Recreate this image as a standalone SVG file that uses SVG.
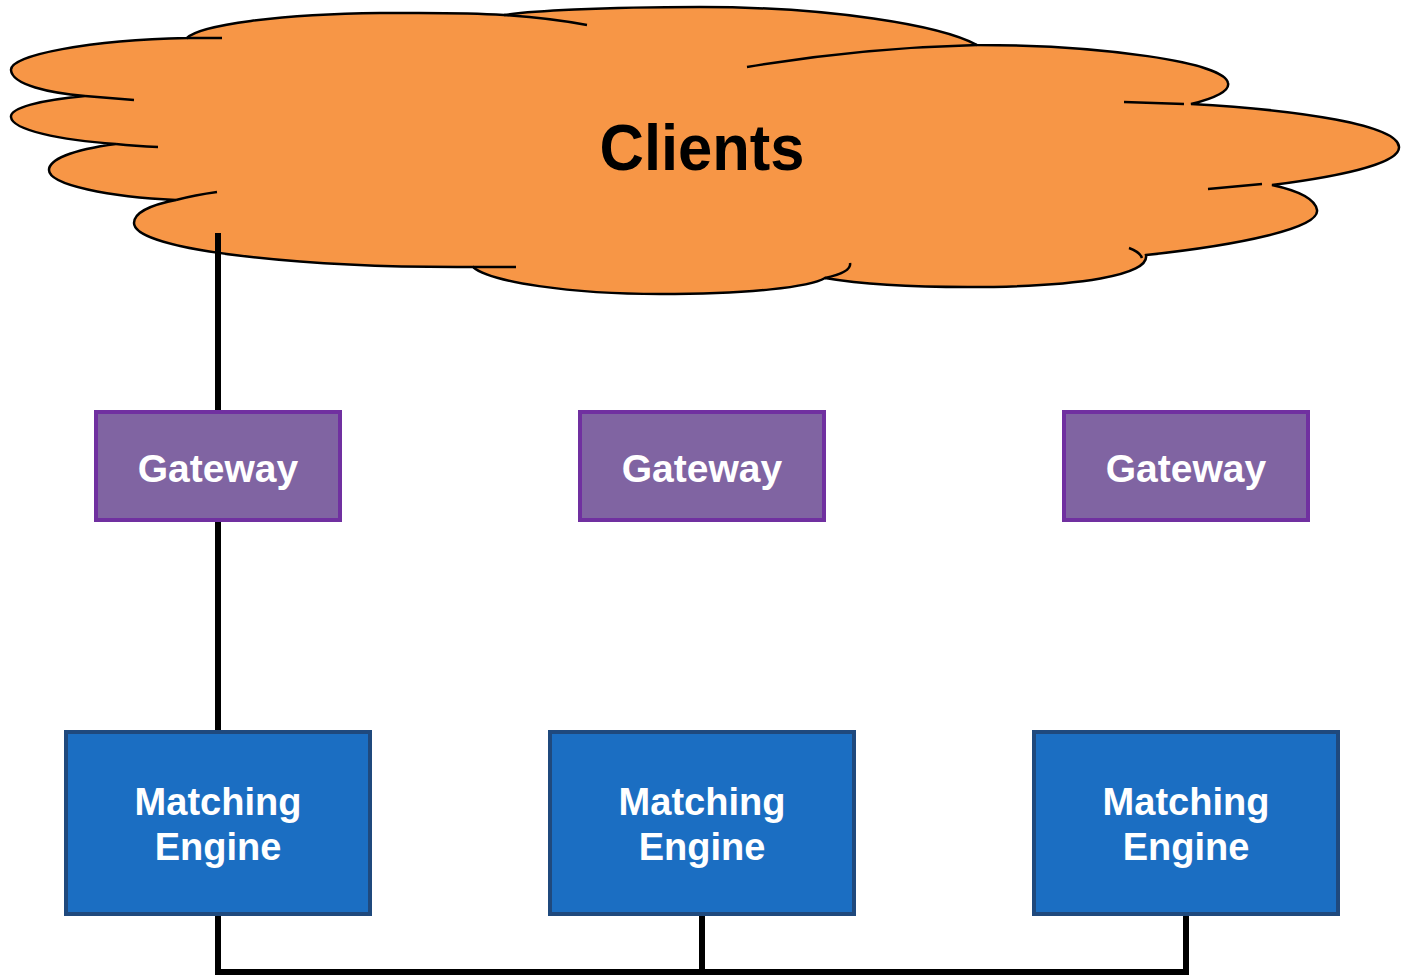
<svg xmlns="http://www.w3.org/2000/svg" width="1403" height="977" viewBox="0 0 1403 977">
<style>
.cloud{fill:#F79646;stroke:#000;stroke-width:2.5}
.cin{fill:none;stroke:#000;stroke-width:2.5}
.gw rect{fill:#8064A2;stroke:#7030A0;stroke-width:4}
.me rect{fill:#1B6EC2;stroke:#1F497D;stroke-width:4}
.lbl{font-family:"Liberation Sans",Arial,sans-serif;font-weight:bold;fill:#fff;text-anchor:middle}
.conn{fill:none;stroke:#000;stroke-width:6}
</style>
<rect width="1403" height="977" fill="#fff"/>
<g id="clients">
<path class="cloud" d="M187,38 C90,40 10,55 11,70 C12,85 50,93 85,96 C40,100 10,108 11,117 C12,130 60,140 116,144 C70,150 49,160 49,170 C49,185 110,197 176,200 C150,205 134,213 134,223 C134,250 300,268 473,267 C490,282 570,294 660,294 C750,294 810,287 825,278 C860,284 910,287 968,287 C1080,287 1150,275 1146,255 C1240,245 1320,228 1317,210 C1315,198 1295,190 1272,185 C1350,175 1400,162 1399,147 C1398,125 1300,110 1191,104 C1215,98 1230,91 1228,83 C1225,62 1100,45 977,45 C940,25 830,7 700,7 C600,7 530,11 504,15 C460,12 420,13 380,13 C280,14 200,25 187,38 Z"/>
<path class="cin" d="M187,38 L222,38 M85,96 Q110,98 134,100 M116,144 Q135,146 158,147 M176,200 Q195,195 217,192 M473,267 L516,267 M850,263 Q852,272 825,278 M1129,248 Q1140,252 1142,258 M1208,189 L1262,184 M1124,102 L1184,104 M747,67 Q860,48 977,45 M504,15 Q550,18 587,25"/>
<text x="702" y="170" font-family="Liberation Sans, Arial, sans-serif" font-weight="bold" font-size="64" text-anchor="middle" fill="#000" textLength="205" lengthAdjust="spacingAndGlyphs">Clients</text>
</g>
<g id="connectors">
<path class="conn" d="M218,233 V412 M218,520 V732"/>
<path class="conn" d="M218,914 V972 H1186 V914 M702,914 V972"/>
</g>
<g id="gateway1" class="gw"><rect x="96" y="412" width="244" height="108"/><text class="lbl" x="218" y="482" font-size="39">Gateway</text></g>
<g id="gateway2" class="gw"><rect x="580" y="412" width="244" height="108"/><text class="lbl" x="702" y="482" font-size="39">Gateway</text></g>
<g id="gateway3" class="gw"><rect x="1064" y="412" width="244" height="108"/><text class="lbl" x="1186" y="482" font-size="39">Gateway</text></g>
<g id="me1" class="me"><rect x="66" y="732" width="304" height="182"/><text class="lbl" x="218" y="815" font-size="38">Matching</text><text class="lbl" x="218" y="860" font-size="38">Engine</text></g>
<g id="me2" class="me"><rect x="550" y="732" width="304" height="182"/><text class="lbl" x="702" y="815" font-size="38">Matching</text><text class="lbl" x="702" y="860" font-size="38">Engine</text></g>
<g id="me3" class="me"><rect x="1034" y="732" width="304" height="182"/><text class="lbl" x="1186" y="815" font-size="38">Matching</text><text class="lbl" x="1186" y="860" font-size="38">Engine</text></g>
</svg>
